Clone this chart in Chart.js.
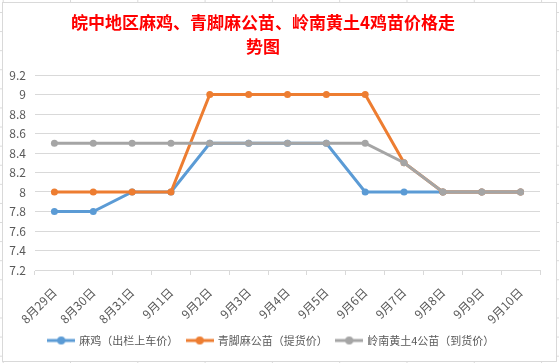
<!DOCTYPE html>
<html lang="zh-CN">
<head>
<meta charset="UTF-8" />
<title>皖中地区鸡苗价格走势图</title>
<script src="https://cdn.jsdelivr.net/npm/chart.js"></script>
<style>
  html, body { margin: 0; padding: 0; }
  body {
    width: 559px; height: 363px; overflow: hidden; position: relative;
    background-color: #fff;
    background-image: linear-gradient(to right, #dadada 1px, transparent 1px),
                      linear-gradient(to bottom, #dadada 1px, transparent 1px);
    background-size: 67.3px 19.1px;
    background-position: 70px 12px;
  }
  #box {
    position: absolute; left: 2px; top: 2px; width: 555px; height: 360px;
    box-sizing: border-box; border: 1px solid #d9d9d9; background: #fff;
  }
  #box canvas { display: block; }
</style>
</head>
<body>
<div id="box"><canvas id="priceChart" width="553" height="358"></canvas></div>
<script>
const dates = ["8月29日", "8月30日", "8月31日", "9月1日", "9月2日", "9月3日", "9月4日",
               "9月5日", "9月6日", "9月7日", "9月8日", "9月9日", "9月10日"];
const maji     = [7.8, 7.8, 8.0, 8.0, 8.5, 8.5, 8.5, 8.5, 8.0, 8.0, 8.0, 8.0, 8.0];
const qingjiao = [8.0, 8.0, 8.0, 8.0, 9.0, 9.0, 9.0, 9.0, 9.0, 8.3, 8.0, 8.0, 8.0];
const lingnan  = [8.5, 8.5, 8.5, 8.5, 8.5, 8.5, 8.5, 8.5, 8.5, 8.3, 8.0, 8.0, 8.0];

const seriesNames = ["麻鸡（出栏上车价）", "青脚麻公苗（提货价）", "岭南黄土4公苗（到货价）"];
const colors = ["#5B9BD5", "#ED7D31", "#A5A5A5"];
const FONT = '"Noto Sans CJK SC", "Noto Sans", sans-serif';
const GREY_TEXT = "#595959";
const GRID = "#d9d9d9";

// little line-with-dot picture for the legend, like Excel does
function legendMarker(color) {
  const c = document.createElement("canvas");
  c.width = 28; c.height = 10;
  const g = c.getContext("2d");
  g.strokeStyle = color; g.lineWidth = 3;
  g.beginPath(); g.moveTo(0, 5); g.lineTo(28, 5); g.stroke();
  g.fillStyle = color;
  g.beginPath(); g.arc(14, 5, 4, 0, Math.PI * 2); g.fill();
  return c;
}
const markers = colors.map(legendMarker);

function series(i, values, order) {
  return {
    label: seriesNames[i],
    data: values,
    borderColor: colors[i],
    backgroundColor: colors[i],
    pointBackgroundColor: colors[i],
    pointBorderColor: colors[i],
    borderWidth: 3,
    pointRadius: 3.5,
    pointBorderWidth: 0,
    pointHoverRadius: 3.5,
    tension: 0,
    order: order
  };
}

new Chart(document.getElementById("priceChart"), {
  type: "line",
  data: {
    labels: dates,
    datasets: [series(0, maji, 3), series(1, qingjiao, 2), series(2, lingnan, 1)]
  },
  options: {
    responsive: false,
    animation: false,
    layout: { padding: { top: 8, left: 0, right: 16, bottom: 5 } },
    plugins: {
      title: {
        display: true,
        text: ["皖中地区麻鸡、青脚麻公苗、岭南黄土4鸡苗价格走\u3000", "势图\u3000"],
        color: "#FF0000",
        font: { family: FONT, size: 17, weight: "bold", lineHeight: 24 / 17 },
        padding: { top: 0, bottom: 16 }
      },
      legend: {
        position: "bottom",
        labels: {
          usePointStyle: true,
          pointStyleWidth: 25,
          padding: 9,
          color: GREY_TEXT,
          font: { family: FONT, size: 11 },
          generateLabels: (chart) => chart.data.datasets.map((ds, i) => ({
            text: ds.label,
            fillStyle: ds.borderColor,
            strokeStyle: ds.borderColor,
            lineWidth: 0,
            pointStyle: markers[i],
            fontColor: GREY_TEXT,
            hidden: !chart.isDatasetVisible(i),
            datasetIndex: i
          }))
        }
      },
      tooltip: { enabled: false }
    },
    scales: {
      x: {
        offset: true,
        grid: { offset: true, drawOnChartArea: false, drawTicks: true, tickLength: 5, color: GRID },
        border: { display: true, color: GRID },
        ticks: {
          autoSkip: false, minRotation: 45, maxRotation: 45,
          color: GREY_TEXT, font: { family: FONT, size: 12 }, padding: 10
        },
        afterFit: (s) => { s.height = 56; }
      },
      y: {
        min: 7.2,
        max: 9.2,
        grid: { color: GRID, drawTicks: false },
        border: { display: false },
        ticks: {
          stepSize: 0.2,
          padding: 9,
          color: GREY_TEXT,
          font: { family: FONT, size: 12 },
          callback: (v) => String(Math.round(v * 10) / 10)
        },
        afterFit: (s) => { s.width = 32; }
      }
    }
  }
});
</script>
</body>
</html>
